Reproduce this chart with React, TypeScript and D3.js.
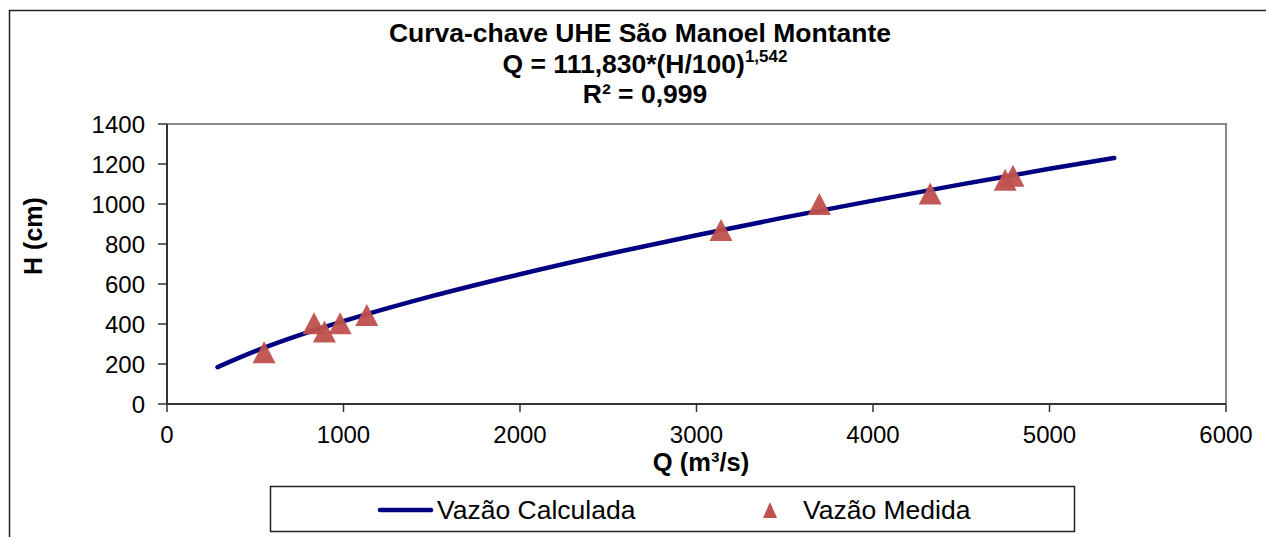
import React from "react";
import * as d3 from "d3";

// curva calculada
const calcQ = [286, 500, 750, 1000, 1500, 2000, 2500, 3000, 3500, 4000, 4500, 5000, 5367];
const calcH = [184, 264, 344, 414, 539, 649, 750, 844, 933, 1017, 1098, 1176, 1230];

// vazões medidas
const medQ = [550, 833, 892, 981, 1132, 3139, 3696, 4324, 4749, 4793];
const medH = [259, 404, 363, 404, 445, 870, 1000, 1053, 1121, 1141];

const xTicks = [0, 1000, 2000, 3000, 4000, 5000, 6000];
const yTicks = [0, 200, 400, 600, 800, 1000, 1200, 1400];

const W = 1266;
const H = 537;
const plot = { left: 167, right: 1226, top: 124, bottom: 404 };
const FONT = "Arial, 'Liberation Sans', Helvetica, sans-serif";
const LINE_COLOR = "#000080";
const MARK_COLOR = "#C0504D";

const x = d3.scaleLinear().domain([0, 6000]).range([plot.left, plot.right]);
const y = d3.scaleLinear().domain([0, 1400]).range([plot.bottom, plot.top]);

const tri = (cx: number, cy: number, w: number, h: number) =>
  `M${cx},${cy - h / 2}L${cx + w / 2},${cy + h / 2}L${cx - w / 2},${cy + h / 2}Z`;

const App = () => {
  const calcData = calcQ.map((q, i) => [q, calcH[i]] as [number, number]);
  const line = d3
    .line<[number, number]>()
    .x((d) => x(d[0]))
    .y((d) => y(d[1]))
    .curve(d3.curveMonotoneX);

  return (
    <svg
      width={W}
      height={H}
      style={{ position: "absolute", left: 0, top: 0, background: "#fff" }}
      fontFamily={FONT}
    >
      {/* borda externa */}
      <rect x={9.5} y={10.5} width={W + 20} height={H + 20} fill="#fff" stroke="#222" strokeWidth={1.5} />

      {/* título */}
      <text x={640} y={42} textAnchor="middle" fontSize={26.5} fontWeight="bold">
        Curva-chave UHE São Manoel Montante
      </text>
      <text x={645} y={73} textAnchor="middle" fontSize={26.5} fontWeight="bold">
        Q = 111,830*(H/100)
        <tspan fontSize={17} dy={-11}>1,542</tspan>
      </text>
      <text x={645} y={103} textAnchor="middle" fontSize={26.5} fontWeight="bold">
        R² = 0,999
      </text>

      {/* moldura do gráfico */}
      <path
        d={`M${plot.left},${plot.top}H${plot.right}V${plot.bottom}`}
        fill="none"
        stroke="#888"
        strokeWidth={2}
      />
      <path
        d={`M${plot.left},${plot.top}V${plot.bottom}H${plot.right}`}
        fill="none"
        stroke="#333"
        strokeWidth={2}
      />

      {/* eixo Y */}
      {yTicks.map((t) => (
        <g key={"y" + t}>
          <line x1={plot.left - 9} x2={plot.left} y1={y(t)} y2={y(t)} stroke="#333" strokeWidth={1.5} />
          <text x={plot.left - 22} y={y(t)} dy="0.36em" textAnchor="end" fontSize={24}>
            {t}
          </text>
        </g>
      ))}

      {/* eixo X */}
      {xTicks.map((t) => (
        <g key={"x" + t}>
          <line x1={x(t)} x2={x(t)} y1={plot.bottom} y2={plot.bottom + 8} stroke="#333" strokeWidth={1.5} />
          <text x={x(t)} y={443} textAnchor="middle" fontSize={24}>
            {t}
          </text>
        </g>
      ))}

      <text x={701} y={471} textAnchor="middle" fontSize={25.5} fontWeight="bold">
        Q (m³/s)
      </text>
      <text
        transform={`translate(42,${(plot.top + plot.bottom) / 2 - 28}) rotate(-90)`}
        textAnchor="middle"
        fontSize={25}
        fontWeight="bold"
      >
        H (cm)
      </text>

      {/* curva calculada */}
      <path
        d={line(calcData) || ""}
        fill="none"
        stroke={LINE_COLOR}
        strokeWidth={4.5}
        strokeLinecap="round"
        strokeLinejoin="round"
      />

      {/* vazões medidas */}
      {medQ.map((q, i) => (
        <path key={"m" + i} d={tri(x(q), y(medH[i]), 23, 22)} fill={MARK_COLOR} opacity={0.95} />
      ))}

      {/* legenda */}
      <rect x={270.5} y={486.5} width={804} height={45} fill="#fff" stroke="#222" strokeWidth={1.5} />
      <line x1={380} x2={431} y1={510} y2={510} stroke={LINE_COLOR} strokeWidth={4.5} strokeLinecap="round" />
      <text x={437} y={519} fontSize={26.5}>
        Vazão Calculada
      </text>
      <path d={tri(770, 510, 14, 16)} fill={MARK_COLOR} />
      <text x={803} y={519} fontSize={26.5}>
        Vazão Medida
      </text>
    </svg>
  );
};

export default App;
